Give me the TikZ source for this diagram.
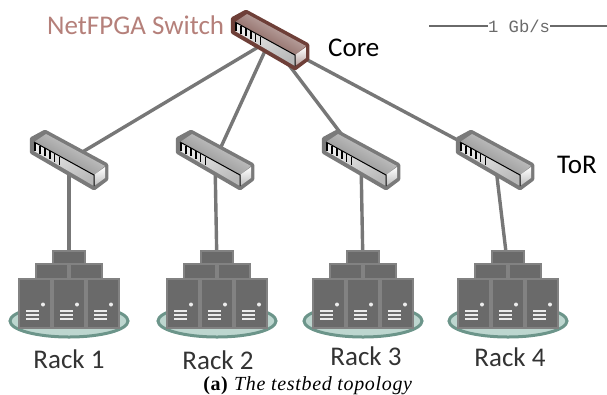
\documentclass[tikz,border=0pt]{standalone}
\usepackage{fontspec}
\setmainfont{Carlito}
\newfontfamily\capfont[LetterSpace=3.3]{Liberation Serif}
\newfontfamily\rateFont{Liberation Mono}
\definecolor{linkgray}{HTML}{777777}
\definecolor{rimgray}{HTML}{7A7A7A}
\definecolor{rimred}{HTML}{6E3F38}
\definecolor{srvbody}{HTML}{6A6A6A}
\definecolor{srvrim}{HTML}{828282}
\definecolor{plate}{HTML}{BDD6CF}
\definecolor{platerim}{HTML}{6C958A}
\definecolor{swlabel}{HTML}{B5807A}
\definecolor{textdark}{HTML}{333333}
\definecolor{ratecol}{HTML}{6A6A6A}
\tikzset{
  link/.style={draw=linkgray,line width=3.4pt},
  hub/.style={inner sep=0pt,minimum size=1pt},
  racklabel/.style={font=\fontsize{27}{27}\selectfont,text=textdark,inner sep=0pt},
  tierlabel/.style={font=\fontsize{27}{27}\selectfont,text=black,inner sep=0pt},
  switchbox/.pic={
    \fill[draw=#1,line width=4.5pt,line join=round,fill=#1] (-24,-28)--(-37,-21)--(-37,-8)--(25,28)--(37,19)--(37,5)--cycle;
    \shade[top color=#1!30!white,bottom color=#1!95!white,shading angle=330]
      (-35,-18)--(-23,-26)--(36,6)--(25,15)--cycle;
    \shade[left color=gray!15!white,right color=gray!55!white,shading angle=30]
      (-35,-18)--(25,15)--(25,26)--(-35,-9)--cycle;
    \shade[top color=white,bottom color=#1!50!white] (25,15)--(36,7)--(36,18)--(25,26)--cycle;
    \draw[black,line width=1pt] (-35,-18)--(25,15)--(25,26);
    \foreach \k in {0,...,5}{
      \draw[black,line width=1.6pt] ({-34+\k*4.9},{-17+\k*2.7})--++(0,8);
    }
  },
  serverbox/.pic={
    \fill[draw=srvrim,line width=2pt,fill=srvbody] (-16,-24) rectangle (16,25);
    \fill[white!85!gray] (8,1.5) circle (2);
    \foreach \v in {7,11,15}{\fill[white!85!gray] (-9.5,\v) rectangle (3.5,\v+1.5);}
  },
  rackpile/.pic={
    \fill[draw=platerim,line width=3pt,fill=plate] (0,52) ellipse (59 and 16);
    \fill[draw=srvrim,line width=2pt,fill=srvbody] (-16,-18) rectangle (16,15);
    \fill[draw=srvrim,line width=2pt,fill=srvbody] (-33,-5) rectangle (-1,30);
    \fill[draw=srvrim,line width=2pt,fill=srvbody] (1,-5) rectangle (33,30);
    \pic at (-34,34) {serverbox};
    \pic at (0,34) {serverbox};
    \pic at (34,34) {serverbox};
  }
}
\begin{document}
\begin{tikzpicture}[x=1pt,y=-1pt]
\useasboundingbox (0,0) rectangle (607,394);
% anchors
\node[hub] (core) at (270,40) {};
\node[hub] (tor1) at (69,160) {};
\node[hub] (tor2) at (215,160) {};
\node[hub] (tor3) at (361,160) {};
\node[hub] (tor4) at (495,160) {};
\node[hub] (rack1) at (69,269) {};
\node[hub] (rack2) at (217,269) {};
\node[hub] (rack3) at (363,269) {};
\node[hub] (rack4) at (508,269) {};
% connectors
\draw[link] (core)--(tor1);
\draw[link] (core)--(tor2);
\draw[link] (core)--(tor3);
\draw[link] (core)--(tor4);
\draw[link] (tor1)--(rack1);
\draw[link] (tor2)--(rack2);
\draw[link] (tor3)--(rack3);
\draw[link] (tor4)--(rack4);
% devices
\pic at (core) {switchbox=rimred};
\pic at (tor1) {switchbox=rimgray};
\pic at (tor2) {switchbox=rimgray};
\pic at (tor3) {switchbox=rimgray};
\pic at (tor4) {switchbox=rimgray};
\pic at (rack1) {rackpile};
\pic at (rack2) {rackpile};
\pic at (rack3) {rackpile};
\pic at (rack4) {rackpile};
% labels
\node[tierlabel,text=swlabel,anchor=west] (nf) at (47,25) {NetFPGA Switch};
\node[tierlabel,anchor=west] (corelabel) at (328,48) {Core};
\node[tierlabel,anchor=west] (torlabel) at (557,165) {ToR};
\node[racklabel] (r1) at (69,359) {Rack 1};
\node[racklabel] (r2) at (218,360) {Rack 2};
\node[racklabel] (r3) at (366,356) {Rack 3};
\node[racklabel] (r4) at (510,357) {Rack 4};
\node[font=\rateFont\fontsize{17.2}{17.2}\selectfont,text=ratecol,inner sep=0pt] (rate) at (519,26) {1 Gb/s};
\coordinate (rl) at (429,26);
\coordinate (rr) at (607,26);
\draw[draw=ratecol,line width=2pt] (rl)--(rate.west);
\draw[draw=ratecol,line width=2pt] (rate.east)--(rr);
\node[font=\capfont\fontsize{20}{20}\selectfont,inner sep=0pt,anchor=base] (cap) at (308,390) {\textbf{(a)} \textit{The testbed topology}};
\end{tikzpicture}
\end{document}
